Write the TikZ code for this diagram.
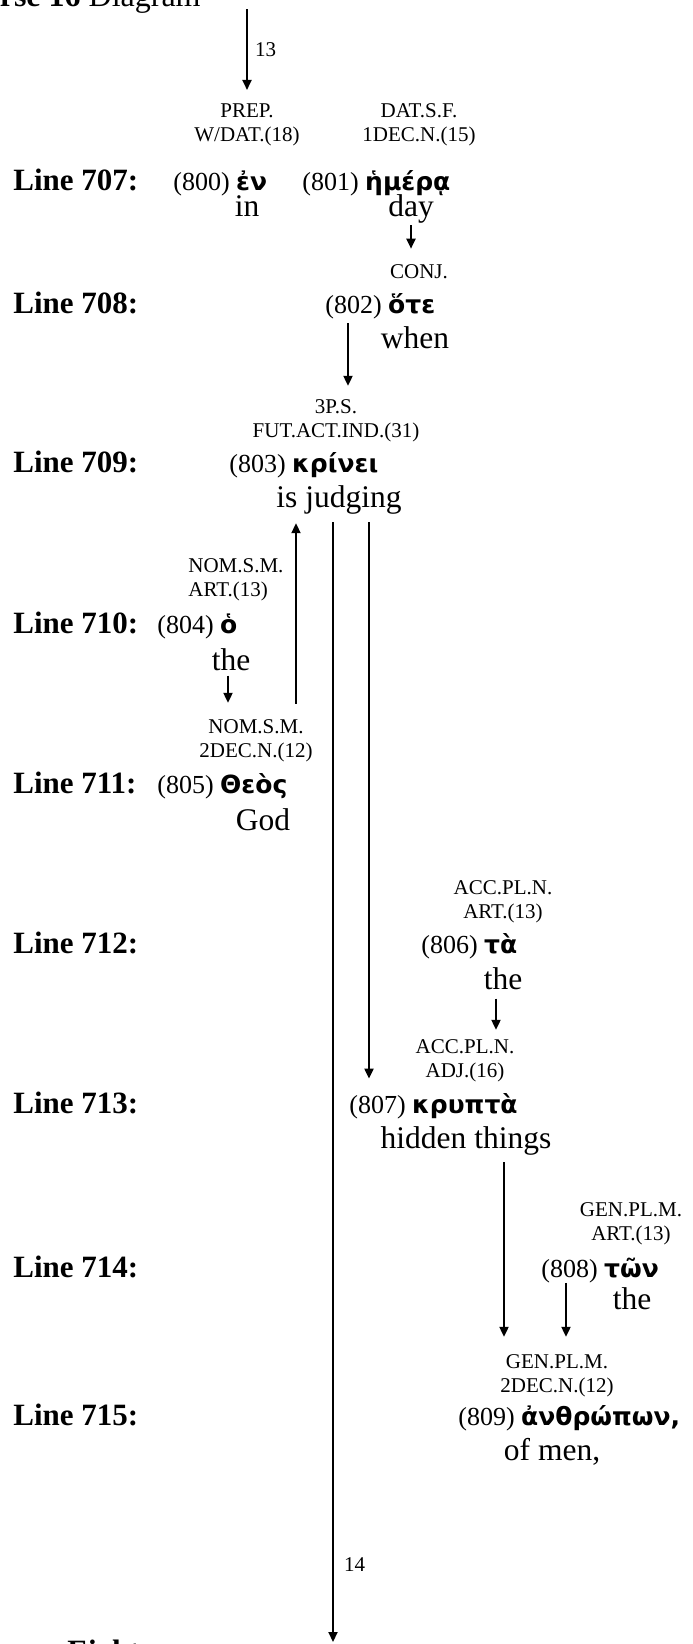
\documentclass[tikz,border=0pt]{standalone}
\usepackage{fontspec}
\setmainfont{Liberation Serif}
\newfontfamily\greekfont{DejaVu Sans}
\usetikzlibrary{arrows.meta}
\def\gk#1{{\greekfont\bfseries\fontsize{12.5}{15}\selectfont #1}}
\tikzset{
	linelab/.style={font=\fontsize{15.5}{18}\selectfont\bfseries, anchor=base west, inner sep=0pt},
	tags/.style={font=\fontsize{10.5}{12}\selectfont, align=center, anchor=south, inner sep=0pt},
	word/.style={font=\fontsize{13}{15}\selectfont, anchor=base west, inner sep=0pt},
	gloss/.style={font=\fontsize{15.75}{18}\selectfont, anchor=base, inner sep=0pt},
	arr/.style={line width=1pt, -{Triangle[length=5pt,width=4.5pt]}},
}
\begin{document}
\begin{tikzpicture}[x=0.5pt, y=-0.5pt]
			%%%%% START %%%%%
			\clip (0,0) rectangle (692,1644);
			
			\node[linelab, anchor=base east, font=\fontsize{16}{18}\selectfont] (title) at (201,6) {\textbf{Verse 16} Diagram};
			
			\node[linelab] (l707) at (13,190) {Line 707:};
			\node[linelab] (l708) at (13,313) {Line 708:};
			\node[linelab] (l709) at (13,472) {Line 709:};
			\node[linelab] (l710) at (13,633) {Line 710:};
			\node[linelab] (l711) at (13,793) {Line 711:};
			\node[linelab] (l712) at (13,953) {Line 712:};
			\node[linelab] (l713) at (13,1113) {Line 713:};
			\node[linelab] (l714) at (13,1277) {Line 714:};
			\node[linelab] (l715) at (13,1425) {Line 715:};
			\node[linelab] (next) at (67,1661) {Eight};
			
			\node[tags] (t800) at (247,146) {PREP.\\W/DAT.(18)};
			\node[word] (w800) at (173,190) {(800) \gk{ἐν}};
			\node[gloss] (g800) at (247,216) {in};
			
			\node[tags] (t801) at (419,146) {DAT.S.F.\\1DEC.N.(15)};
			\node[word] (w801) at (302,190) {(801) \gk{ἡμέρᾳ}};
			\node[gloss] (g801) at (411,216) {day};
			
			\node[tags, anchor=base] (t802) at (419,278) {CONJ.};
			\node[word] (w802) at (325,313) {(802) \gk{ὅτε}};
			\node[gloss] (g802) at (415,348) {when};
			
			\node[tags] (t803) at (336,442) {3P.S.\\FUT.ACT.IND.(31)};
			\node[word] (w803) at (229,472) {(803) \gk{κρίνει}};
			\node[gloss] (g803) at (339,507) {is judging};
			
			\node[tags, align=left, anchor=south west] (t804) at (188,601) {NOM.S.M.\\ART.(13)};
			\node[word] (w804) at (157,633) {(804) \gk{ὁ}};
			\node[gloss] (g804) at (231,670) {the};
			
			\node[tags] (t805) at (256,762) {NOM.S.M.\\2DEC.N.(12)};
			\node[word] (w805) at (157,793) {(805) \gk{Θεὸς}};
			\node[gloss] (g805) at (263,830) {God};
			
			\node[tags] (t806) at (503,923) {ACC.PL.N.\\ART.(13)};
			\node[word] (w806) at (421,953) {(806) \gk{τὰ}};
			\node[gloss] (g806) at (503,989) {the};
			
			\node[tags] (t807) at (465,1082) {ACC.PL.N.\\ADJ.(16)};
			\node[word] (w807) at (349,1113) {(807) \gk{κρυπτὰ}};
			\node[gloss] (g807) at (466,1148) {hidden things};
			
			\node[tags] (t808) at (631,1245) {GEN.PL.M.\\ART.(13)};
			\node[word] (w808) at (541,1277) {(808) \gk{τῶν}};
			\node[gloss] (g808) at (632,1309) {the};
			
			\node[tags] (t809) at (557,1397) {GEN.PL.M.\\2DEC.N.(12)};
			\node[word] (w809) at (458,1425) {(809) \gk{ἀνθρώπων,}};
			\node[gloss] (g809) at (552,1460) {of men,};
			
			% incoming and outgoing
			\coordinate (top13) at (247,9);
			\draw[arr, shorten >=6.5pt] (top13) -- node[tags, anchor=west, pos=0.43, inner sep=3.5pt] {13} (t800.north);
			\coordinate (s803) at ([xshift=-3pt, yshift=-4pt]g803.south);
			\coordinate (end14) at (s803 |- 0,1642);
			\draw[arr] (s803) -- node[tags, anchor=west, pos=0.931, inner sep=5pt] {14} (end14);
			
			% links
			\coordinate (s801) at ([yshift=-1pt]g801.south);
			\draw[arr, shorten >=7.5pt] (s801) -- (s801 |- t802.north);
			\coordinate (s802) at ([xshift=11.5pt, yshift=-2.2pt]w802.south west);
			\draw[arr, shorten >=6.5pt] (s802) -- (s802 |- t803.north);
			\coordinate (s805) at ([xshift=20pt, yshift=7.5pt]t805.north);
			\draw[arr, shorten >=4.5pt] (s805) -- (s805 |- g803.south);
			\coordinate (s804) at ([xshift=-1.5pt, yshift=-2.5pt]g804.south);
			\draw[arr, shorten >=8pt] (s804) -- (s804 |- t805.north);
			\coordinate (s803b) at ([xshift=15pt, yshift=-4pt]g803.south);
			\draw[arr, shorten >=7pt] (s803b) -- (s803b |- w807.north);
			\coordinate (s806) at ([xshift=-3.5pt, yshift=-4.5pt]g806.south);
			\draw[arr, shorten >=4.5pt] (s806) -- (s806 |- t807.north);
			\coordinate (s807) at ([xshift=19pt, yshift=-3.5pt]g807.south);
			\draw[arr, shorten >=8.5pt] (s807) -- (s807 |- t809.north);
			\coordinate (s808) at ([xshift=12.5pt]w808.south west);
			\draw[arr, shorten >=8.5pt] (s808) -- (s808 |- t809.north);
			%%%%% END %%%%%
\end{tikzpicture}
\end{document}
